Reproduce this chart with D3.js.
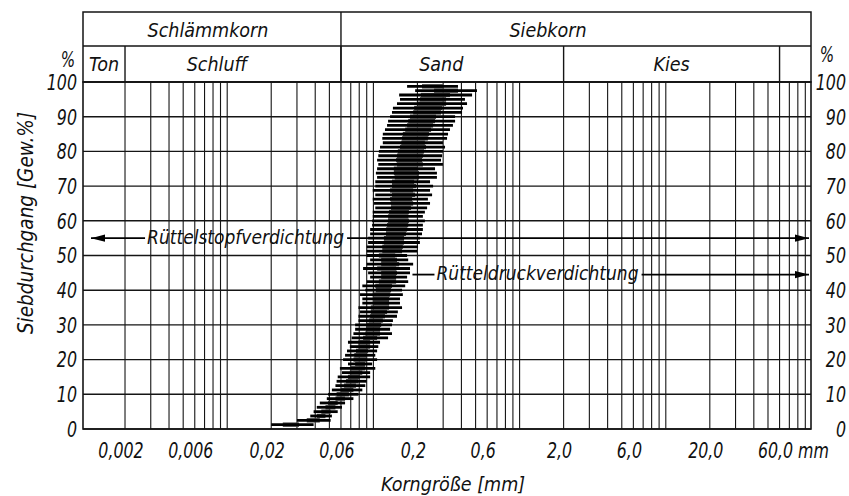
<!DOCTYPE html>
<html><head><meta charset="utf-8">
<script src="https://cdn.jsdelivr.net/npm/d3@7"></script>
<style>
html,body{margin:0;padding:0;background:#fff;}
svg text{font-family:"DejaVu Sans Condensed","DejaVu Sans",sans-serif;font-style:italic;fill:#111;}
</style></head><body>
<svg id="c" width="849" height="496"></svg>
<script>
// ---------- data ----------
const levels = [98.75,97.5,96.25,95,93.75,92.5,91.25,90,88.75,87.5,
  86.25,85,83.75,82.5,81.25,80,78.75,77.5,76.25,75,
  73.75,72.5,71.25,70,68.75,67.5,66.25,65,63.75,62.5,
  61.25,60,58.75,57.5,56.25,55,53.75,52.5,51.25,50,
  48.75,47.5,46.25,45,43.75,42.5,41.25,40,38.75,37.5,
  36.25,35,33.75,32.5,31.25,30,28.75,27.5,26.25,25,
  23.75,22.5,21.25,20,18.75,17.5,16.25,15,13.75,12.5,
  11.25,10,8.75,7.5,6.25,5,3.75,2.5,1.25];
const rangeMin = [0.170,0.193,0.150,0.152,0.145,0.136,0.134,0.130,0.126,0.124,
  0.120,0.116,0.115,0.116,0.111,0.109,0.108,0.106,0.108,0.106,
  0.104,0.106,0.103,0.103,0.099,0.103,0.099,0.101,0.103,0.099,
  0.099,0.098,0.098,0.095,0.095,0.092,0.092,0.090,0.090,0.090,
  0.095,0.090,0.085,0.092,0.095,0.090,0.084,0.088,0.081,0.084,
  0.084,0.079,0.081,0.079,0.079,0.075,0.075,0.073,0.071,0.067,
  0.069,0.066,0.064,0.062,0.067,0.059,0.061,0.057,0.056,0.055,
  0.052,0.049,0.048,0.043,0.041,0.039,0.037,0.030,0.020];
const rangeMax = [0.379,0.511,0.473,0.423,0.437,0.410,0.404,0.362,0.362,0.350,
  0.334,0.324,0.319,0.299,0.309,0.299,0.295,0.290,0.299,0.264,
  0.272,0.272,0.244,0.256,0.244,0.252,0.236,0.244,0.233,0.225,
  0.218,0.225,0.218,0.218,0.215,0.208,0.208,0.202,0.199,0.170,
  0.173,0.187,0.178,0.178,0.170,0.173,0.165,0.157,0.159,0.152,
  0.152,0.157,0.147,0.145,0.136,0.134,0.130,0.134,0.126,0.111,
  0.108,0.106,0.103,0.106,0.098,0.103,0.095,0.095,0.090,0.088,
  0.084,0.079,0.073,0.064,0.061,0.057,0.052,0.051,0.039];
const coreMin = [0.215,0.260,0.211,0.208,0.202,0.190,0.187,0.178,0.173,0.170,
  0.165,0.159,0.157,0.155,0.152,0.147,0.145,0.143,0.145,0.138,
  0.138,0.140,0.134,0.134,0.130,0.134,0.130,0.132,0.132,0.128,
  0.126,0.126,0.124,0.122,0.122,0.118,0.118,0.115,0.115,0.109,
  0.113,0.113,0.106,0.113,0.113,0.109,0.103,0.104,0.099,0.099,
  0.099,0.096,0.096,0.095,0.093,0.089,0.089,0.088,0.085,0.079,
  0.079,0.076,0.074,0.073,0.075,0.070,0.069,0.067,0.065,0.063,
  0.060,0.056,0.055,0.049,0.047,0.044,0.041,0.035,0.024];
const coreMax = [0.299,0.379,0.334,0.314,0.314,0.295,0.290,0.268,0.264,0.256,
  0.248,0.240,0.236,0.225,0.229,0.222,0.218,0.215,0.218,0.202,
  0.205,0.205,0.190,0.196,0.187,0.193,0.184,0.187,0.181,0.175,
  0.173,0.175,0.173,0.170,0.167,0.162,0.162,0.159,0.157,0.141,
  0.145,0.150,0.143,0.145,0.143,0.143,0.134,0.132,0.130,0.128,
  0.128,0.128,0.124,0.120,0.116,0.113,0.111,0.111,0.106,0.095,
  0.095,0.092,0.089,0.090,0.088,0.088,0.084,0.081,0.079,0.076,
  0.073,0.068,0.064,0.057,0.055,0.051,0.047,0.043,0.031];

const yTicks = [0,10,20,30,40,50,60,70,80,90,100];
const xTickValues = [0.002,0.006,0.02,0.06,0.2,0.6,2.0,6.0,20.0,60.0];
const xTickLabels = ["0,002","0,006","0,02","0,06","0,2","0,6","2,0","6,0","20,0","60,0"];

const headTopLabels = ["Schlämmkorn","Siebkorn"];
const headTopBounds = [[0.001,0.06],[0.06,100]];
const headSubLabels = ["Ton","Schluff","Sand","Kies",""];
const headSubBounds = [[0.001,0.002],[0.002,0.06],[0.06,2],[2,60],[60,100]];

const arrowLabels = ["Rüttelstopfverdichtung","Rütteldruckverdichtung"];
const arrowLevels = [55,44.5];
const arrowStart = [0.001,0.185];
const arrowTextAt = [0.00283,0.27];
const arrowEnd = [100,100];
const arrowBothEnds = [true,false];

// ---------- layout ----------
const F = {left:83, right:811, top:82, bottom:429, hTop:12, hMid:46};
const headTopShift = [-4,-28];
const headSubShift = [0,-16,-11,0,0];
const NX = 0.8; // horizontal squeeze of numeric lettering
const svg = d3.select("#c");
const x = d3.scaleLog().domain([0.001,100]).range([81,812]);
const y = d3.scaleLinear().domain([0,100]).range([F.bottom,F.top]);
const ink = "#151515";
const clampX = v => Math.max(F.left, Math.min(F.right, x(v)));
function numText(g, tx, ty, anchor, size, str){
  return g.append("text").attr("transform",`translate(${tx},${ty}) scale(${NX},1)`)
    .attr("text-anchor",anchor).attr("font-size",size).text(str);
}

// grid
const gGrid = svg.append("g");
const gridVals = [];
for (let n=-3;n<=1;n++) for (let k=1;k<=9;k++) gridVals.push(+(k*Math.pow(10,n)).toPrecision(3));
gGrid.selectAll("line.v").data(gridVals.filter(v => x(v)>F.left+1 && x(v)<F.right-1))
  .enter().append("line").attr("class","v")
  .attr("x1",d=>x(d)).attr("x2",d=>x(d)).attr("y1",F.top).attr("y2",F.bottom)
  .attr("stroke",ink).attr("stroke-width",1.1);
gGrid.selectAll("line.h").data(yTicks).enter().append("line").attr("class","h")
  .attr("x1",F.left).attr("x2",F.right).attr("y1",d=>y(d)).attr("y2",d=>y(d))
  .attr("stroke",ink).attr("stroke-width",1.4);

// data band
const rows = levels.map((p,i)=>({p, lo:rangeMin[i], hi:rangeMax[i], clo:coreMin[i], chi:coreMax[i]}));
const band = svg.append("g");
band.selectAll("rect.core").data(rows).enter().append("rect").attr("class","core")
  .attr("x",d=>x(d.clo)).attr("width",d=>x(d.chi)-x(d.clo))
  .attr("y",d=>y(d.p)-2.2).attr("height",4.4).attr("fill","#3c3c3c");
band.selectAll("line.bar").data(rows).enter().append("line").attr("class","bar")
  .attr("x1",d=>x(d.lo)).attr("x2",d=>x(d.hi)).attr("y1",d=>y(d.p)).attr("y2",d=>y(d.p))
  .attr("stroke","#000").attr("stroke-width",2.8);

// frame
svg.append("rect").attr("x",F.left).attr("y",F.top).attr("width",F.right-F.left).attr("height",F.bottom-F.top)
  .attr("fill","none").attr("stroke",ink).attr("stroke-width",1.6);

// header
const gH = svg.append("g");
gH.append("rect").attr("x",F.left).attr("y",F.hTop).attr("width",F.right-F.left).attr("height",F.top-F.hTop)
  .attr("fill","none").attr("stroke",ink).attr("stroke-width",1.5);
gH.append("line").attr("x1",F.left).attr("x2",F.right).attr("y1",F.hMid).attr("y2",F.hMid).attr("stroke",ink).attr("stroke-width",1.4);
headTopBounds.slice(1).forEach(b=>{
  gH.append("line").attr("x1",x(b[0])).attr("x2",x(b[0])).attr("y1",F.hTop).attr("y2",F.top).attr("stroke",ink).attr("stroke-width",1.4);
});
headSubBounds.slice(1).forEach(b=>{
  gH.append("line").attr("x1",x(b[0])).attr("x2",x(b[0])).attr("y1",F.hMid).attr("y2",F.top).attr("stroke",ink).attr("stroke-width",1.4);
});
headTopLabels.forEach((t,i)=>{
  const cx=(clampX(headTopBounds[i][0])+clampX(headTopBounds[i][1]))/2+headTopShift[i];
  gH.append("text").attr("x",cx).attr("y",37).attr("text-anchor","middle").attr("font-size",19.5).text(t);
});
headSubLabels.forEach((t,i)=>{
  if(!t) return;
  const cx=(clampX(headSubBounds[i][0])+clampX(headSubBounds[i][1]))/2+headSubShift[i];
  gH.append("text").attr("x",cx).attr("y",71).attr("text-anchor","middle").attr("font-size",19.5).text(t);
});

// y tick labels
const gY = svg.append("g");
yTicks.forEach(v=>{
  numText(gY, 77, y(v)+7.8, "end", 22, v);
  numText(gY, 846, y(v)+7.8, "end", 22, v);
});
numText(gY, 75, 67, "end", 21, "%");
numText(gY, 834, 62, "end", 21, "%");

// x tick labels
const gX = svg.append("g");
xTickValues.forEach((v,i)=>{
  numText(gX, x(v)-4, 458, "middle", 22, xTickLabels[i]);
});
numText(gX, 798, 458, "start", 22, "mm");

// axis titles
svg.append("text").attr("x",453).attr("y",491).attr("text-anchor","middle").attr("font-size",19.5).text("Korngröße [mm]");
svg.append("text").attr("transform","translate(33,223) rotate(-90)").attr("text-anchor","middle").attr("font-size",20.5).text("Siebdurchgang [Gew.%]");

// arrows
const gA = svg.append("g");
function head(xt, yy, dir){
  const L=14, W=3.6;
  gA.append("path").attr("d",`M${xt},${yy} L${xt-dir*L},${yy-W} L${xt-dir*L},${yy+W} Z`).attr("fill","#000");
}
arrowLabels.forEach((t,i)=>{
  const yy = y(arrowLevels[i]);
  const tx = x(arrowTextAt[i]);
  const txt = gA.append("text").attr("x",tx).attr("y",yy+5.5).attr("font-size",19).text(t);
  const w = txt.node().getComputedTextLength();
  const xs = Math.max(x(arrowStart[i]), F.left+8);
  const xe = Math.min(x(arrowEnd[i]), F.right-2);
  gA.append("line").attr("x1",xs).attr("x2",tx-2).attr("y1",yy).attr("y2",yy).attr("stroke","#000").attr("stroke-width",1.8);
  gA.append("line").attr("x1",tx+w+3).attr("x2",xe).attr("y1",yy).attr("y2",yy).attr("stroke","#000").attr("stroke-width",1.8);
  head(xe, yy, 1);
  if (arrowBothEnds[i]) head(xs, yy, -1);
});
</script>
</body></html>
